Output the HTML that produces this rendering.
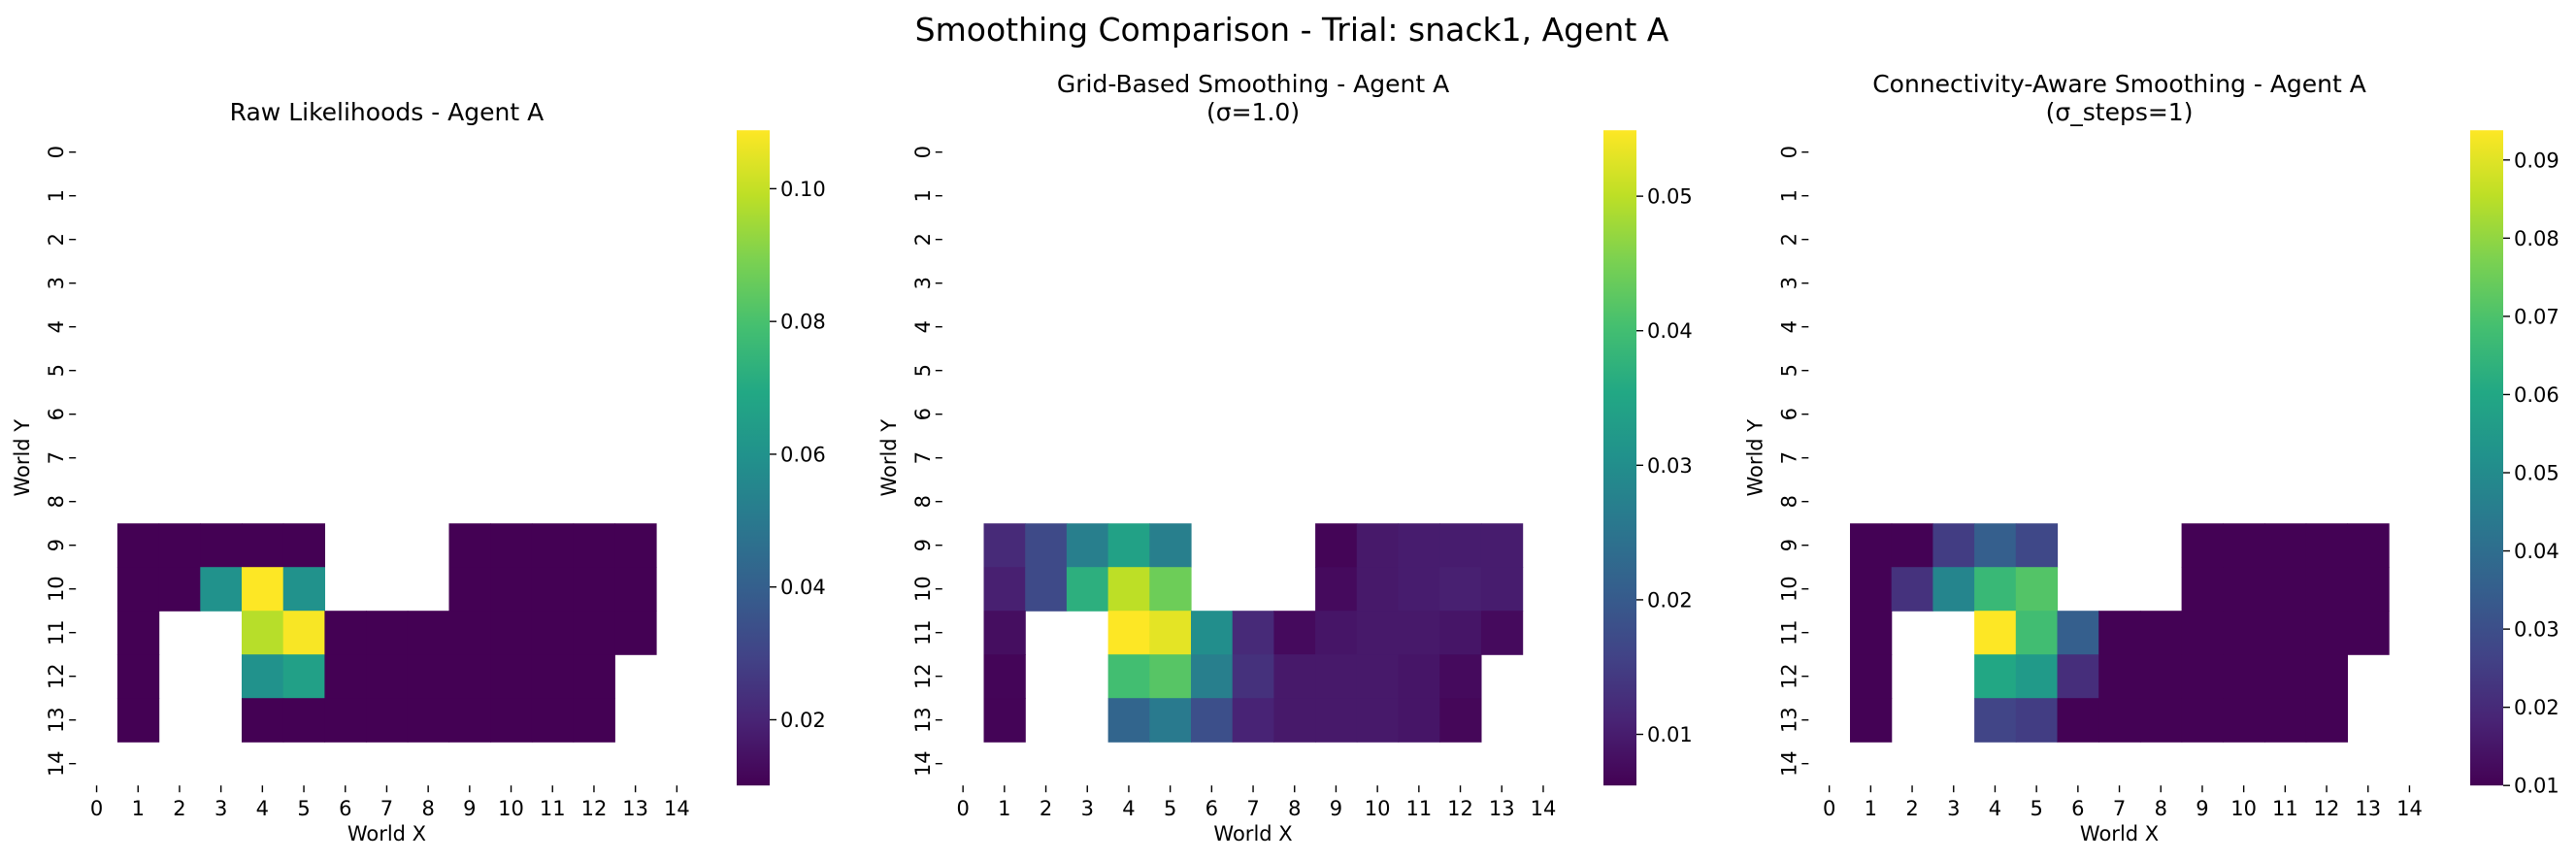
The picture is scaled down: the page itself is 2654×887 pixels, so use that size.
<!DOCTYPE html>
<html><head><meta charset="utf-8"><style>
body{margin:0;background:#fff;}
svg{display:block;font-family:"DejaVu Sans","Liberation Sans",sans-serif;}
</style></head><body>
<svg id="fig" width="2654" height="887" viewBox="0 0 2654 887" xmlns="http://www.w3.org/2000/svg">
<defs>
<linearGradient id="vir" x1="0" y1="1" x2="0" y2="0">
<stop offset="0" stop-color="#440154"/><stop offset="0.1" stop-color="#482475"/><stop offset="0.2" stop-color="#414487"/><stop offset="0.3" stop-color="#355f8d"/><stop offset="0.4" stop-color="#2a788e"/><stop offset="0.5" stop-color="#21918c"/><stop offset="0.6" stop-color="#22a884"/><stop offset="0.7" stop-color="#44bf70"/><stop offset="0.8" stop-color="#7ad151"/><stop offset="0.9" stop-color="#bddf26"/><stop offset="1" stop-color="#fde725"/>
</linearGradient>
</defs>
<text x="1331" y="42" font-size="33" text-anchor="middle">Smoothing Comparison - Trial: snack1, Agent A</text>
</svg>
<script>
const xCategories=[0,1,2,3,4,5,6,7,8,9,10,11,12,13,14];
const yCategories=[0,1,2,3,4,5,6,7,8,9,10,11,12,13,14];
const rowIndex=[9,10,11,12,13];
const N=null;
const rawValues=[
[N,0.0101,0.0101,0.0101,0.0101,0.0101,N,N,N,0.0101,0.0101,0.0101,0.0101,0.0101,N],
[N,0.0101,0.0101,0.060,0.1088,0.060,N,N,N,0.0101,0.0101,0.0101,0.0101,0.0101,N],
[N,0.0101,N,N,0.098,0.108,0.0101,0.0101,0.0101,0.0101,0.0101,0.0101,0.0101,0.0101,N],
[N,0.0101,N,N,0.060,0.066,0.0101,0.0101,0.0101,0.0101,0.0101,0.0101,0.0101,N,N],
[N,0.0101,N,N,0.0101,0.0101,0.0101,0.0101,0.0101,0.0101,0.0101,0.0101,0.0101,N,N]];
const gridValues=[
[N,0.012,0.017,0.027,0.034,0.027,N,N,N,0.0067,0.0095,0.010,0.010,0.010,N],
[N,0.0105,0.017,0.037,0.050,0.044,N,N,N,0.0075,0.0095,0.010,0.0105,0.010,N],
[N,0.008,N,N,0.0549,0.053,0.030,0.012,0.0075,0.009,0.0095,0.0095,0.009,0.0075,N],
[N,0.0068,N,N,0.040,0.042,0.027,0.013,0.0095,0.0095,0.0095,0.009,0.0075,N,N],
[N,0.0066,N,N,0.022,0.026,0.018,0.011,0.0095,0.0095,0.0095,0.009,0.007,N,N]];
const connValues=[
[N,0.0102,0.0102,0.025,0.035,0.028,N,N,N,0.0102,0.0102,0.0102,0.0102,0.0102,N],
[N,0.0102,0.022,0.048,0.066,0.071,N,N,N,0.0102,0.0102,0.0102,0.0102,0.0102,N],
[N,0.0102,N,N,0.0938,0.068,0.035,0.0102,0.0102,0.0102,0.0102,0.0102,0.0102,0.0102,N],
[N,0.0102,N,N,0.060,0.055,0.021,0.0102,0.0102,0.0102,0.0102,0.0102,0.0102,N,N],
[N,0.0102,N,N,0.027,0.025,0.0102,0.0102,0.0102,0.0102,0.0102,0.0102,0.0102,N,N]];
const rawRange=[0.0101,0.1088];
const gridRange=[0.0062,0.0549];
const connRange=[0.0100,0.0938];
const rawTicks=[0.02,0.04,0.06,0.08,0.10];
const gridTicks=[0.01,0.02,0.03,0.04,0.05];
const connTicks=[0.01,0.02,0.03,0.04,0.05,0.06,0.07,0.08,0.09];
const titles=[["Raw Likelihoods - Agent A"],["Grid-Based Smoothing - Agent A","(σ=1.0)"],["Connectivity-Aware Smoothing - Agent A","(σ_steps=1)"]];

const VIR=[[68,1,84],[72,36,117],[65,68,135],[53,95,141],[42,120,142],[33,145,140],[34,168,132],[68,191,112],[122,209,81],[189,223,38],[253,231,37]];
function viridis(t){t=Math.max(0,Math.min(1,t));const p=t*10;const i=Math.min(9,Math.floor(p));const f=p-i;
const a=VIR[i],b=VIR[i+1];return 'rgb('+a.map((v,k)=>Math.round(v+(b[k]-v)*f)).join(',')+')';}
const svg=document.getElementById('fig');const NS='http://www.w3.org/2000/svg';
function mk(tag,attrs,parent,txt){const e=document.createElementNS(NS,tag);for(const k in attrs)e.setAttribute(k,attrs[k]);if(txt!==undefined)e.textContent=txt;(parent||svg).appendChild(e);return e;}
const TOP=134.2,CH=45,CW=42.7,CBW=34,FS=21;
const panels=[{vals:rawValues,range:rawRange,ticks:rawTicks,left:78.2,cb:759,name:'raw'},
{vals:gridValues,range:gridRange,ticks:gridTicks,left:970.8,cb:1652,name:'grid'},
{vals:connValues,range:connRange,ticks:connTicks,left:1863.3,cb:2545,name:'connectivity'}];
panels.forEach((P,pi)=>{
 const g=mk('g',{});
 
 
 const xs=c=>P.left+c*CW, ys=r=>TOP+r*CH;
 const cy=v=>TOP+15*CH-(v-P.range[0])/(P.range[1]-P.range[0])*15*CH;
 P.vals.forEach((row,ri)=>row.forEach((v,ci)=>{if(v===null)return;
  const r=mk('rect',{x:xs(ci),y:ys(rowIndex[ri]),width:CW+0.6,height:CH+0.6,fill:viridis((v-P.range[0])/(P.range[1]-P.range[0]))},g);
  
  }));
 const midX=P.left+7.5*CW;
 titles[pi].forEach((t,li)=>{const tt=mk('text',{x:midX,y:(titles[pi].length==2?(li==0?95:124):124),'font-size':25,'text-anchor':'middle'},g,t);
  
  });
 xCategories.forEach((c,i)=>{const x=xs(i)+CW/2;
  mk('line',{x1:x,x2:x,y1:TOP+15*CH,y2:TOP+15*CH+7,stroke:'#000','stroke-width':1.4},g);
  const t=mk('text',{x:x,y:TOP+15*CH+31,'font-size':FS,'text-anchor':'middle'},g,c);
  
  });
 yCategories.forEach((c,i)=>{const y=ys(i)+CH/2;
  mk('line',{x1:P.left-7,x2:P.left,y1:y,y2:y,stroke:'#000','stroke-width':1.4},g);
  const t=mk('text',{x:0,y:0,'font-size':FS,'text-anchor':'middle',transform:'translate('+(P.left-13)+','+y+') rotate(-90)'},g,c);
  
  });
 const xl=mk('text',{x:midX,y:866,'font-size':FS,'text-anchor':'middle'},g,'World X');
 
 
 const yl=mk('text',{x:0,y:0,'font-size':FS,'text-anchor':'middle',transform:'translate('+(P.left-48)+','+(TOP+7.5*CH)+') rotate(-90)'},g,'World Y');
 
 
 const cb=mk('rect',{x:P.cb,y:TOP,width:CBW,height:15*CH,fill:'url(#vir)'},g);
 
 
 P.ticks.forEach(v=>{const y=cy(v);
  mk('line',{x1:P.cb+CBW,x2:P.cb+CBW+7,y1:y,y2:y,stroke:'#000','stroke-width':1.4},g);
  const t=mk('text',{x:P.cb+CBW+11,y:y+7.5,'font-size':FS},g,v.toFixed(2));
  
  });
});
</script>
</body></html>
